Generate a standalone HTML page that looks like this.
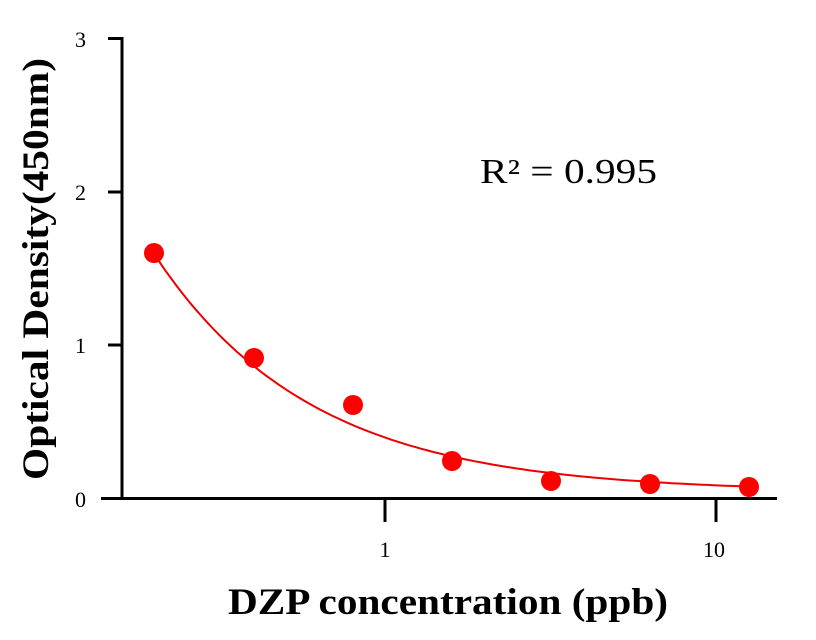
<!DOCTYPE html>
<html><head><style>body{margin:0;background:#fff}svg{display:block}</style></head><body>
<svg id="s" width="816" height="640" xmlns="http://www.w3.org/2000/svg" font-family="Liberation Serif, serif">
<rect width="816" height="640" fill="#fff"/>
<g stroke="#000" stroke-width="3">
<line x1="122" y1="37" x2="122" y2="500"/>
<line x1="101" y1="498.5" x2="777" y2="498.5"/>
<line x1="108" y1="38.5" x2="122" y2="38.5"/>
<line x1="108" y1="192" x2="122" y2="192"/>
<line x1="108" y1="345" x2="122" y2="345"/>
<line x1="385" y1="498" x2="385" y2="522"/>
<line x1="716" y1="498" x2="716" y2="522"/>
</g>
<g font-size="22" text-anchor="end">
<text x="86" y="47">3</text><text x="86" y="200">2</text><text x="86" y="353">1</text><text x="86" y="507">0</text>
</g>
<g font-size="22" text-anchor="middle">
<text x="385" y="557">1</text><text x="714" y="557">10</text>
</g>
<text x="228" y="614" font-size="37" font-weight="bold" textLength="440" lengthAdjust="spacingAndGlyphs">DZP concentration (ppb)</text>
<text transform="translate(48,480) rotate(-90)" font-size="37" font-weight="bold" textLength="422" lengthAdjust="spacingAndGlyphs">Optical Density(450nm)</text>
<text x="480" y="183" font-size="35" textLength="177" lengthAdjust="spacingAndGlyphs">R² = 0.995</text>
<path id="c" fill="none" stroke="#e00" stroke-width="2"/>
<g fill="#f00" id="p"></g>
</svg>
<script>
var px=L=>385+331*L, py=y=>498-153.3*y;
var d="";for(var i=0;i<=100;i++){var L=-0.7+i*1.8/100;var y=0.04+1.56*Math.pow(0.53,(L+0.7)/0.3);d+=(i?"L":"M")+px(L).toFixed(1)+" "+py(y).toFixed(1);}
document.getElementById("c").setAttribute("d",d);
var pts=[[154,253],[254,358],[353,405],[452,461],[551,481],[650,484],[749,487]];
var g=document.getElementById("p");
pts.forEach(function(p){var c=document.createElementNS("http://www.w3.org/2000/svg","circle");c.setAttribute("cx",p[0]);c.setAttribute("cy",p[1]);c.setAttribute("r",10);g.appendChild(c);});
</script>
</body></html>
